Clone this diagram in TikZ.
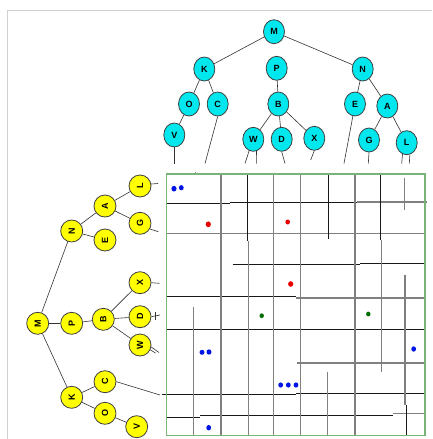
\documentclass[tikz,border=0pt]{standalone}
\usepackage{fontspec}
\usepackage{graphicx}
\setmainfont{Liberation Sans}
\usetikzlibrary{shapes.geometric}
\definecolor{tcyan}{RGB}{0,232,238}
\definecolor{tyellow}{RGB}{255,255,0}
\definecolor{boxgreen}{RGB}{120,180,120}
\definecolor{dotblue}{RGB}{0,20,230}
\definecolor{dotred}{RGB}{235,0,0}
\definecolor{dotgreen}{RGB}{0,110,0}
\newcommand\rlab[1]{\rotatebox{90}{#1}}
\begin{document}
\begin{tikzpicture}[x=1pt,y=-1pt,
  cnode/.style={ellipse, draw=black!75, line width=0.8pt, fill=tcyan, minimum width=21pt, minimum height=24pt, inner sep=0pt, font=\fontsize{9}{9}\selectfont\bfseries},
  ynode/.style={circle, draw=black!75, line width=0.8pt, fill=tyellow, minimum size=22pt, inner sep=0pt, font=\fontsize{9}{9}\selectfont\bfseries},
  tedge/.style={draw=black!80, line width=0.6pt},
  gk/.style={draw=black!90, line width=1pt},
  gg/.style={draw=black!50, line width=1.2pt},
  bdot/.style={fill=dotblue, draw=none},
  rdot/.style={fill=dotred, draw=none},
  gdot/.style={fill=dotgreen, draw=none},
  frameline/.style={draw=black!18, line width=0.8pt}]
\useasboundingbox (0,0) rectangle (432,439);
\fill[white] (0,0) rectangle (432,439);
% faint frame
\coordinate (f1) at (7.5,439);
\coordinate (f2) at (7.5,10);
\coordinate (f3) at (432,10);
\draw[frameline] (f1) -- (f2) -- (f3);

% ---------- top tree ----------
\node[cnode] (tM) at (274,31.7) {M};
\node[cnode] (tK) at (204.3,69) {K};
\node[cnode] (tP) at (276.7,68.3) {P};
\node[cnode] (tN) at (362.7,69) {N};
\node[cnode] (tO) at (189,104) {O};
\node[cnode] (tC) at (217.7,104) {C};
\node[cnode] (tB) at (278.3,104) {B};
\node[cnode] (tE) at (355,104) {E};
\node[cnode] (tA) at (387.3,106) {A};
\node[cnode] (tV) at (174.3,135) {V};
\node[cnode] (tW) at (253.3,139.3) {W};
\node[cnode] (tD) at (281.7,139.3) {D};
\node[cnode] (tX) at (314.3,138.3) {X};
\node[cnode] (tG) at (369,140) {G};
\node[cnode] (tL) at (406.7,142.7) {L};
\draw[tedge] (tM) -- (tK);
\draw[tedge] (tM) -- (tN);
\draw[tedge] (tK) -- (tO);
\draw[tedge] (tK) -- (tC);
\draw[tedge] (tO) -- (tV);
\draw[tedge] (tP) -- (tB);
\draw[tedge] (tB) -- (tW);
\draw[tedge] (tB) -- (tD);
\draw[tedge] (tB) -- (tX);
\draw[tedge] (tN) -- (tE);
\draw[tedge] (tN) -- (tA);
\draw[tedge] (tA) -- (tG);
\draw[tedge] (tA) -- (tL);
% drop lines
\coordinate (vV) at (174.3,163.5);
\coordinate (vC) at (205,163.5);
\coordinate (vW1) at (245,163.5);
\coordinate (vW2) at (256.7,163.5);
\coordinate (vD) at (285,163.5);
\coordinate (vX) at (310.7,160);
\coordinate (vE) at (344,163.5);
\coordinate (vG) at (368.3,163.5);
\coordinate (vL1) at (401.7,163.5);
\coordinate (vL2) at (409.3,163.5);
\draw[tedge] (tV.south) -- (vV);
\draw[tedge] (tC.south) -- (vC);
\draw[tedge] (tW.250) -- (vW1);
\draw[tedge] (tW.285) -- (vW2);
\draw[tedge] (tD.south) -- (vD);
\draw[tedge] (tX.south) -- (vX);
\draw[tedge] (tE.260) -- (vE);
\draw[tedge] (tG.south) -- (vG);
\draw[tedge] (tL.250) -- (vL1);
\draw[tedge] (tL.285) -- (vL2);

% ---------- left tree ----------
\node[ynode] (lM) at (37.7,323.3) {\rlab{M}};
\node[ynode] (lP) at (71.7,323.3) {\rlab{P}};
\node[ynode] (lB) at (103.3,319.3) {\rlab{B}};
\node[ynode] (lN) at (71.7,231) {\rlab{N}};
\node[ynode] (lK) at (71.7,397.3) {\rlab{K}};
\node[ynode] (lA) at (105,206) {\rlab{A}};
\node[ynode] (lE) at (105,240) {\rlab{E}};
\node[ynode] (lL) at (140,186) {\rlab{L}};
\node[ynode] (lG) at (140,223.3) {\rlab{G}};
\node[ynode] (lX) at (140,282.7) {\rlab{X}};
\node[ynode] (lD) at (140,316.7) {\rlab{D}};
\node[ynode] (lW) at (140,345) {\rlab{W}};
\node[ynode] (lC) at (105,381.7) {\rlab{C}};
\node[ynode] (lO) at (105,413.3) {\rlab{O}};
\node[ynode] (lV) at (136.7,426.7) {\rlab{V}};
\draw[tedge] (lM) -- (lN);
\draw[tedge] (lM) -- (lP);
\draw[tedge] (lM) -- (lK);
\draw[tedge] (lP) -- (lB);
\draw[tedge] (lB) -- (lX);
\draw[tedge] (lB) -- (lD);
\draw[tedge] (lB) -- (lW);
\draw[tedge] (lN) -- (lA);
\draw[tedge] (lN) -- (lE);
\draw[tedge] (lA) -- (lL);
\draw[tedge] (lA) -- (lG);
\draw[tedge] (lK) -- (lC);
\draw[tedge] (lK) -- (lO);
\draw[tedge] (lO) -- (lV);
% drop lines
\coordinate (hL) at (158,183.5);
\coordinate (hG) at (158.3,231.7);
\coordinate (hX) at (159.3,283.3);
\coordinate (hD) at (160,315);
\coordinate (hDa) at (155,311.5);
\coordinate (hDb) at (155,319.5);
\coordinate (hW1) at (155.5,353);
\coordinate (hW2) at (159,352.5);
\coordinate (hC) at (160,395);
\draw[tedge] (lL.10) -- (hL);
\draw[tedge] (lG.-30) -- (hG);
\draw[tedge] (lX.east) -- (hX);
\draw[tedge] (lD.east) -- (hD);
\draw[tedge] (hDa) -- (hDb);
\draw[tedge] (lW.-25) -- (hW1);
\draw[tedge] (lW.-10) -- (hW2);
\draw[tedge] (lC.east) -- (hC);

% ---------- grid ----------
% horizontal lines
\draw[gk] (166,203.3) -- (230,203.3);
\draw[gk] (230,202.5) -- (357,202.5);
\draw[gg] (357,202) -- (427,202);
\draw[gg] (166,233.3) -- (425,233.3);
\draw[gk] (232.7,264) -- (360,264);
\draw[gk] (360,263.3) -- (425,263.3);
\draw[gk] (166,296.7) -- (296,296.7);
\draw[gg] (296,298) -- (425,298);
\draw[gk] (166,329.5) -- (425,329.5);
\draw[gg] (296.7,363) -- (425,363);
\draw[gk] (161.7,394) -- (296,394);
\draw[gk] (296,393.3) -- (425,393.3);
\draw[gk] (166,417.5) -- (200,417.5);
\draw[gk] (200,415.8) -- (263,415.8);
\draw[gk] (263,415) -- (393,415);
\draw[gg] (393,413.5) -- (425,413.5);
% vertical lines
\draw[gg] (193.3,306.7) -- (193.3,435.7);
\draw[gg] (221,174) -- (221,435.7);
\draw[gk] (247.5,174) -- (247.5,241);
\draw[gg] (248.3,241) -- (248.3,435.7);
\draw[gg] (273.5,174) -- (273.5,435.7);
\draw[gg] (300.5,174) -- (300.5,435.7);
\draw[gk] (328.3,174) -- (328.3,239);
\draw[gg] (327.7,371.7) -- (327.7,435.7);
\draw[gg] (355,174) -- (355,435.7);
\draw[gk] (380.7,174) -- (380.7,240);
\draw[gg] (381.3,240) -- (381.3,371.7);
\draw[gg] (404.3,177.7) -- (404.3,210);
\draw[gg] (405,275) -- (405,405);
\draw[gk] (406,405) -- (406,435.7);
\draw[gg] (195.7,171.5) -- (195.7,174.5);
% box
\draw[draw=boxgreen, line width=1.2pt] (166.7,174) rectangle (425,435.7);

% ---------- points ----------
\fill[bdot] (174,188.7) ellipse (2.6 and 2.8);
\fill[bdot] (181.3,187.7) ellipse (2.4 and 2.6);
\fill[rdot] (208.3,224.3) ellipse (2.6 and 2.9);
\fill[rdot] (287.7,222) ellipse (2.3 and 2.5);
\fill[rdot] (290.7,284) ellipse (2.6 and 2.8);
\fill[gdot] (261.7,315.7) ellipse (2.2 and 2.4);
\fill[gdot] (368.3,314) ellipse (2.2 and 2.4);
\fill[bdot] (202,352.3) ellipse (2.5 and 2.5);
\fill[bdot] (209,352) ellipse (2.5 and 2.7);
\fill[bdot] (280.7,385) ellipse (2.4 and 2.6);
\fill[bdot] (288.3,385) ellipse (2.4 and 2.6);
\fill[bdot] (296,385) ellipse (2.4 and 2.6);
\fill[bdot] (413.7,349) ellipse (2.4 and 2.7);
\fill[bdot] (208.7,427.7) ellipse (2.4 and 2.7);
\end{tikzpicture}
\end{document}
